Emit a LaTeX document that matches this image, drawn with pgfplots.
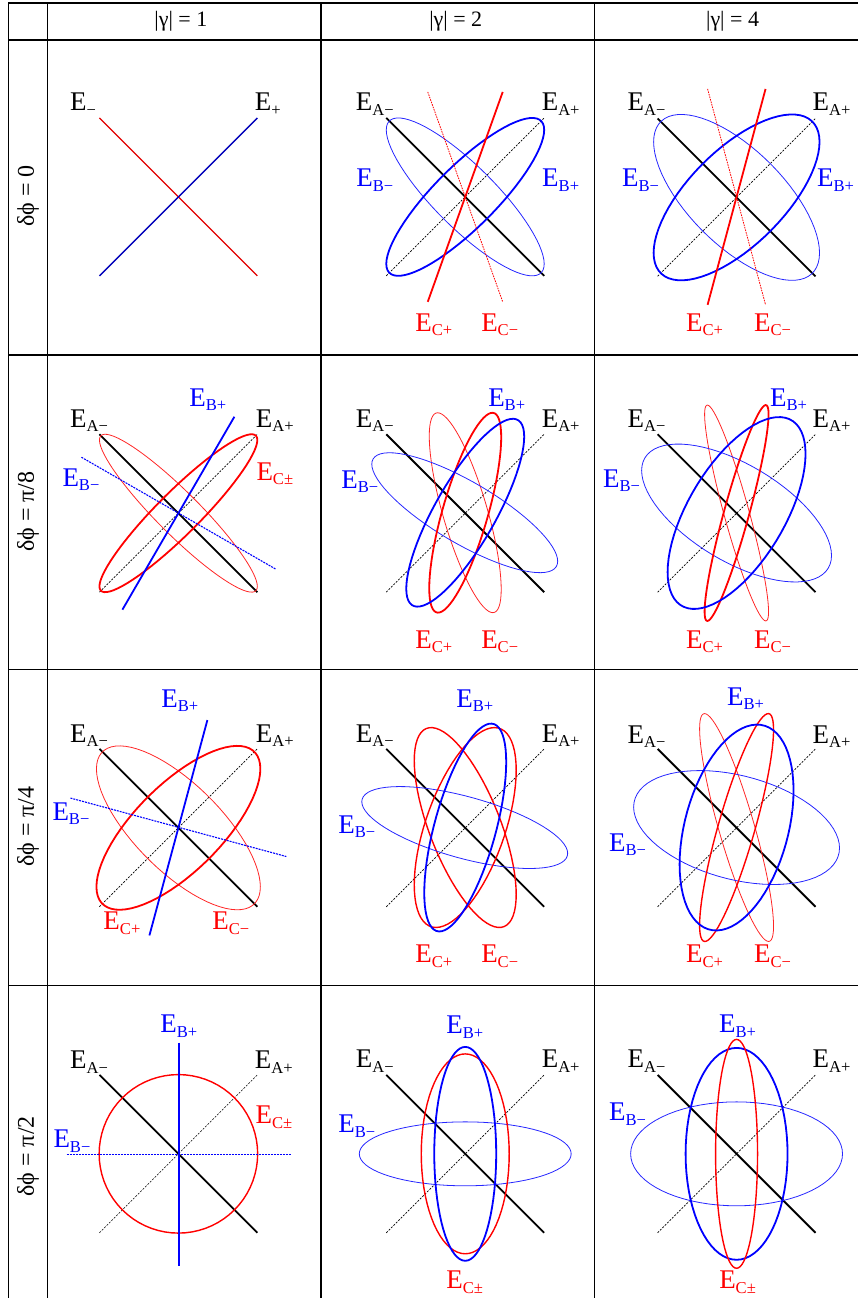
\documentclass[border=0pt]{standalone}
\usepackage{fontspec}
\setmainfont{Liberation Serif}
\usepackage{pgfplots}
\usepackage{pgfplotstable}
\pgfplotsset{compat=1.18}

% unit circle, every 5 degrees: c = cos t, s = sin t
\pgfplotstableread{
t c s
0 1.0000 0.0000
5 0.9962 0.0872
10 0.9848 0.1736
15 0.9659 0.2588
20 0.9397 0.3420
25 0.9063 0.4226
30 0.8660 0.5000
35 0.8192 0.5736
40 0.7660 0.6428
45 0.7071 0.7071
50 0.6428 0.7660
55 0.5736 0.8192
60 0.5000 0.8660
65 0.4226 0.9063
70 0.3420 0.9397
75 0.2588 0.9659
80 0.1736 0.9848
85 0.0872 0.9962
90 0.0000 1.0000
95 -0.0872 0.9962
100 -0.1736 0.9848
105 -0.2588 0.9659
110 -0.3420 0.9397
115 -0.4226 0.9063
120 -0.5000 0.8660
125 -0.5736 0.8192
130 -0.6428 0.7660
135 -0.7071 0.7071
140 -0.7660 0.6428
145 -0.8192 0.5736
150 -0.8660 0.5000
155 -0.9063 0.4226
160 -0.9397 0.3420
165 -0.9659 0.2588
170 -0.9848 0.1736
175 -0.9962 0.0872
180 -1.0000 0.0000
185 -0.9962 -0.0872
190 -0.9848 -0.1736
195 -0.9659 -0.2588
200 -0.9397 -0.3420
205 -0.9063 -0.4226
210 -0.8660 -0.5000
215 -0.8192 -0.5736
220 -0.7660 -0.6428
225 -0.7071 -0.7071
230 -0.6428 -0.7660
235 -0.5736 -0.8192
240 -0.5000 -0.8660
245 -0.4226 -0.9063
250 -0.3420 -0.9397
255 -0.2588 -0.9659
260 -0.1736 -0.9848
265 -0.0872 -0.9962
270 0.0000 -1.0000
275 0.0872 -0.9962
280 0.1736 -0.9848
285 0.2588 -0.9659
290 0.3420 -0.9397
295 0.4226 -0.9063
300 0.5000 -0.8660
305 0.5736 -0.8192
310 0.6428 -0.7660
315 0.7071 -0.7071
320 0.7660 -0.6428
325 0.8192 -0.5736
330 0.8660 -0.5000
335 0.9063 -0.4226
340 0.9397 -0.3420
345 0.9659 -0.2588
350 0.9848 -0.1736
355 0.9962 -0.0872
360 1.0000 0.0000
}\unitcircle

\definecolor{dkred}{RGB}{225,0,0}
\definecolor{dkblue}{RGB}{0,0,185}

% polarisation ellipse: style, centre x, centre y, half width, half height, phase (deg)
\newcommand{\pell}[6]{\addplot[#1] table[x expr={#2+#4*\thisrow{c}},
  y expr={#3-#5*(\thisrow{c}*cos(#6)-\thisrow{s}*sin(#6))}] {\unitcircle};}
\newcommand{\E}[1]{E\raisebox{-0.17em}{\fontsize{8.3}{8.3}\selectfont #1}}

\tikzset{
  lab/.style={font=\fontsize{13.5}{14}\selectfont, inner sep=0pt},
  Am/.style={black, line width=0.9pt},
  Ap/.style={black, line width=0.35pt, dash pattern=on 1pt off 0.7pt},
  thickB/.style={blue, line width=0.9pt},
  thinB/.style={blue!85, line width=0.4pt},
  thickR/.style={red, line width=0.9pt},
  medR/.style={red, line width=0.7pt},
  thinR/.style={red!85, line width=0.4pt},
  dotR/.style={red, line width=0.4pt, dash pattern=on 0.8pt off 0.5pt},
  dotB/.style={blue, line width=0.55pt, dash pattern=on 1pt off 0.5pt},
  grid/.style={black, line width=0.75pt},
}

\begin{document}
\begin{tikzpicture}
\begin{axis}[
    scale only axis,
    width=429pt, height=649.5pt,
    xmin=0, xmax=858, ymin=0, ymax=1299,
    y dir=reverse,
    axis lines=none,
    clip=false,
]
\path (axis cs:0,0) rectangle (axis cs:858,1299);
% table rules
\draw[grid] (axis cs:8.5,3) -- (axis cs:8.5,1299);
\draw[grid] (axis cs:47.5,3) -- (axis cs:47.5,1299);
\draw[grid] (axis cs:321,3) -- (axis cs:321,1299);
\draw[grid] (axis cs:595,3) -- (axis cs:595,1299);
\draw[grid] (axis cs:8.5,3) -- (axis cs:858,3);
\draw[grid] (axis cs:8.5,40) -- (axis cs:858,40);
\draw[grid] (axis cs:8.5,355) -- (axis cs:858,355);
\draw[grid] (axis cs:8.5,670) -- (axis cs:858,670);
\draw[grid] (axis cs:8.5,986) -- (axis cs:858,986);
% headers
\node[font=\fontsize{11}{12}\selectfont] at (axis cs:181,21) {|γ| = 1};
\node[font=\fontsize{11}{12}\selectfont] at (axis cs:456,21) {|γ| = 2};
\node[font=\fontsize{11}{12}\selectfont] at (axis cs:733,21) {|γ| = 4};
\node[font=\fontsize{12}{13}\selectfont, rotate=90] at (axis cs:28,196) {δϕ = 0};
\node[font=\fontsize{12}{13}\selectfont, rotate=90] at (axis cs:28,512) {δϕ = π/8};
\node[font=\fontsize{12}{13}\selectfont, rotate=90] at (axis cs:28,827) {δϕ = π/4};
\node[font=\fontsize{12}{13}\selectfont, rotate=90] at (axis cs:28,1157) {δϕ = π/2};

% ---- row 0: dphi = 0
\addplot[dkred, line width=0.7pt] coordinates {(99.5,118) (257.5,276)};
\addplot[dkblue, line width=0.7pt] coordinates {(99.5,276) (257.5,118)};
\node[lab] at (axis cs:83,104) {\E{−}};
\node[lab] at (axis cs:268,104) {\E{+}};

\addplot[Ap] coordinates {(386.5,276) (544.5,118)};
\addplot[Am] coordinates {(386.5,118) (544.5,276)};
\pell{thinB}{465.5}{197}{79}{79}{148}
\pell{thickB}{465.5}{197}{79}{79}{32}
\addplot[dotR] coordinates {(428,92) (503,302)};
\addplot[thickR] coordinates {(428,302) (503,92)};
\node[lab] at (axis cs:375,104) {\E{A−}};
\node[lab] at (axis cs:561,104) {\E{A+}};
\node[lab, blue] at (axis cs:375,180) {\E{B−}};
\node[lab, blue] at (axis cs:561,180) {\E{B+}};
\node[lab, red] at (axis cs:434,325) {\E{C+}};
\node[lab, red] at (axis cs:500,325) {\E{C−}};

\addplot[Ap] coordinates {(658,276.5) (816,118.5)};
\addplot[Am] coordinates {(658,118.5) (816,276.5)};
\pell{thinB}{737}{197.5}{83}{83}{132}
\pell{thickB}{737}{197.5}{83}{83}{48}
\addplot[dotR] coordinates {(708,89) (766,305)};
\addplot[thickR] coordinates {(708,305) (766,89)};
\node[lab] at (axis cs:647,104) {\E{A−}};
\node[lab] at (axis cs:832,104) {\E{A+}};
\node[lab, blue] at (axis cs:641,180) {\E{B−}};
\node[lab, blue] at (axis cs:836,180) {\E{B+}};
\node[lab, red] at (axis cs:705,325) {\E{C+}};
\node[lab, red] at (axis cs:773,325) {\E{C−}};

% ---- row 1: dphi = pi/8
\addplot[Ap] coordinates {(99.5,592.5) (257.5,434.5)};
\addplot[Am] coordinates {(99.5,434.5) (257.5,592.5)};
\pell{thinR}{178.5}{513.5}{79}{79}{158}
\pell{thickR}{178.5}{513.5}{79}{79}{22}
\addplot[dotB] coordinates {(81.5,457.5) (276,569.5)};
\addplot[thickB] coordinates {(122.5,610) (234.5,417)};
\node[lab] at (axis cs:89,421) {\E{A−}};
\node[lab] at (axis cs:275,421) {\E{A+}};
\node[lab, blue] at (axis cs:208,400) {\E{B+}};
\node[lab, blue] at (axis cs:81,480) {\E{B−}};
\node[lab, red] at (axis cs:275,474) {\E{C±}};

\addplot[Ap] coordinates {(386.5,592.5) (544.5,434.5)};
\addplot[Am] coordinates {(386.5,434.5) (544.5,592.5)};
\pell{thinR}{465.5}{513}{36}{100}{140}
\pell{thinB}{465}{513}{93}{60}{144}
\pell{thickR}{465.5}{513}{36}{100}{41}
\pell{thickB}{465.5}{513}{59}{94}{36}
\node[lab] at (axis cs:375,421) {\E{A−}};
\node[lab] at (axis cs:561,421) {\E{A+}};
\node[lab, blue] at (axis cs:507,400) {\E{B+}};
\node[lab, blue] at (axis cs:360,482) {\E{B−}};
\node[lab, red] at (axis cs:434,642) {\E{C+}};
\node[lab, red] at (axis cs:500,642) {\E{C−}};

\addplot[Ap] coordinates {(658,592.5) (816,434.5)};
\addplot[Am] coordinates {(658,434.5) (816,592.5)};
\pell{thinR}{737}{513.3}{32}{108}{156}
\pell{thinB}{737}{513.3}{95}{69}{128}
\pell{thickR}{737}{513.3}{32}{108}{24}
\pell{thickB}{737}{513.3}{69}{96}{52}
\node[lab] at (axis cs:647,421) {\E{A−}};
\node[lab] at (axis cs:832,421) {\E{A+}};
\node[lab, blue] at (axis cs:789,400) {\E{B+}};
\node[lab, blue] at (axis cs:622,481) {\E{B−}};
\node[lab, red] at (axis cs:705,642) {\E{C+}};
\node[lab, red] at (axis cs:773,642) {\E{C−}};

% ---- row 2: dphi = pi/4
\addplot[Ap] coordinates {(99.5,907.3) (257.5,749.3)};
\addplot[Am] coordinates {(99.5,749.3) (257.5,907.3)};
\pell{thinR}{178.5}{828.3}{82}{82}{136}
\pell{thickR}{178.5}{828.3}{82}{82}{44}
\addplot[dotB] coordinates {(70.5,798.5) (286.5,857)};
\addplot[thickB] coordinates {(149.5,936) (207.5,720.5)};
\node[lab, blue] at (axis cs:180,701) {\E{B+}};
\node[lab] at (axis cs:89,736) {\E{A−}};
\node[lab] at (axis cs:275,736) {\E{A+}};
\node[lab, blue] at (axis cs:71,814) {\E{B−}};
\node[lab, red] at (axis cs:122,924) {\E{C+}};
\node[lab, red] at (axis cs:231,924) {\E{C−}};

\addplot[Ap] coordinates {(386.5,907.3) (544.5,749.3)};
\addplot[Am] coordinates {(386.5,749.3) (544.5,907.3)};
\pell{medR}{465.5}{828}{51}{100}{132}
\pell{thinB}{465}{828}{103}{41}{129}
\pell{medR}{465.5}{828}{51}{100}{55}
\pell{thickB}{465.5}{828}{41}{104}{51}
\node[lab, blue] at (axis cs:475,701) {\E{B+}};
\node[lab] at (axis cs:375,736) {\E{A−}};
\node[lab] at (axis cs:561,736) {\E{A+}};
\node[lab, blue] at (axis cs:357,827) {\E{B−}};
\node[lab, red] at (axis cs:434,957) {\E{C+}};
\node[lab, red] at (axis cs:500,957) {\E{C−}};

\addplot[Ap] coordinates {(658,907.3) (816,749.3)};
\addplot[Am] coordinates {(658,749.3) (816,907.3)};
\pell{thinR}{737}{828}{37}{114}{150}
\pell{thinB}{737}{828}{103}{57}{111}
\pell{medR}{737}{828}{37}{114}{31}
\pell{thickB}{737}{828}{57}{103}{69}
\node[lab, blue] at (axis cs:746,699) {\E{B+}};
\node[lab] at (axis cs:647,737) {\E{A−}};
\node[lab] at (axis cs:832,737) {\E{A+}};
\node[lab, blue] at (axis cs:628,845) {\E{B−}};
\node[lab, red] at (axis cs:705,957) {\E{C+}};
\node[lab, red] at (axis cs:773,957) {\E{C−}};

% ---- row 3: dphi = pi/2
\addplot[Ap] coordinates {(99.5,1233.5) (257.5,1075.5)};
\addplot[Am] coordinates {(99.5,1075.5) (257.5,1233.5)};
\pell{medR}{178.5}{1154.5}{79.3}{79.3}{90}
\addplot[dotB] coordinates {(66.7,1155.2) (291.7,1155.2)};
\addplot[blue, line width=0.7pt] coordinates {(179.3,1043.3) (179.3,1266.7)};
\node[lab, blue] at (axis cs:179,1027) {\E{B+}};
\node[lab] at (axis cs:89,1063) {\E{A−}};
\node[lab] at (axis cs:274,1063) {\E{A+}};
\node[lab, red] at (axis cs:274,1118) {\E{C±}};
\node[lab, blue] at (axis cs:72,1142) {\E{B−}};

\addplot[Ap] coordinates {(386.5,1233.5) (544.5,1075.5)};
\addplot[Am] coordinates {(386.5,1075.5) (544.5,1233.5)};
\pell{thinB}{465.5}{1154.5}{106}{32}{90}
\pell{medR}{465.5}{1154.5}{44}{100}{90}
\pell{thickB}{465.5}{1154.5}{31}{107}{90}
\node[lab, blue] at (axis cs:465,1028) {\E{B+}};
\node[lab] at (axis cs:375,1062) {\E{A−}};
\node[lab] at (axis cs:561,1062) {\E{A+}};
\node[lab, blue] at (axis cs:357,1127) {\E{B−}};
\node[lab, red] at (axis cs:465,1283) {\E{C±}};

\addplot[Ap] coordinates {(658,1233.5) (816,1075.5)};
\addplot[Am] coordinates {(658,1075.5) (816,1233.5)};
\pell{thinB}{737}{1154.5}{106}{52}{90}
\pell{thickB}{737}{1154.5}{51}{106}{90}
\pell{medR}{737}{1154.5}{21}{114.5}{90}
\node[lab, blue] at (axis cs:738,1027) {\E{B+}};
\node[lab] at (axis cs:647,1062) {\E{A−}};
\node[lab] at (axis cs:832,1062) {\E{A+}};
\node[lab, blue] at (axis cs:628,1115) {\E{B−}};
\node[lab, red] at (axis cs:738,1283) {\E{C±}};
\end{axis}
\end{tikzpicture}
\end{document}
